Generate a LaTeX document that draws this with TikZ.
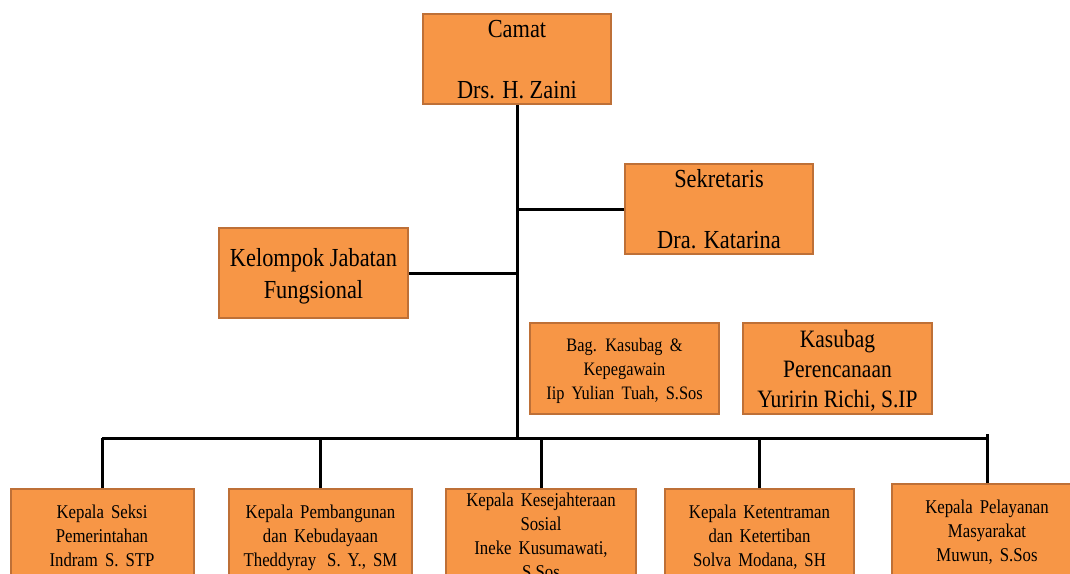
\documentclass[tikz,border=0pt]{standalone}
\usepackage{fontspec}
\setmainfont{Liberation Serif}[FakeStretch=0.86]
\usepackage{xcolor}
\usepackage{tikz}
\usetikzlibrary{positioning}

\definecolor{boxfill}{HTML}{F79646}
\definecolor{boxline}{RGB}{190,112,55}

\begin{document}
\begin{tikzpicture}[x=1pt,y=-1pt,node distance=219pt,
    jabatan/.style={draw=boxline,fill=boxfill,line width=2pt,inner sep=0pt,align=center,
        text depth=0pt,minimum width=188pt,minimum height=90pt},
    seksi/.style={jabatan,minimum height=93pt,
        font={\fontsize{19.5}{24}\selectfont\spaceskip=0.36em\relax}},
    garis/.style={line width=3pt}]
    \useasboundingbox (0,0) rectangle (1070,573);
    \clip (0,0) rectangle (1070,573);

    \node[jabatan,font=\fontsize{26}{30.5}\selectfont] (camat) at (517,59) {Camat\\ \\Drs. H. Zaini};
    \node[jabatan,font=\fontsize{26}{30.5}\selectfont] (sekr) at (719,209) {Sekretaris\\ \\Dra. Katarina};
    \node[jabatan,minimum width=189pt,font=\fontsize{26}{32}\selectfont] (kjf) at (313.5,273) {Kelompok Jabatan\\Fungsional};
    \node[jabatan,minimum width=189pt,minimum height=91pt,
        font={\fontsize{19}{24}\selectfont\spaceskip=0.38em\relax}] (kepeg) at (624.5,368.5)
        {Bag. Kasubag \&\\Kepegawain\\Iip Yulian Tuah, S.Sos};
    \node[jabatan,minimum width=189pt,minimum height=91pt,font=\fontsize{25}{30}\selectfont] (renc) at (837.5,368.5)
        {Kasubag\\Perencanaan\\Yuririn Richi, S.IP};

    \node[seksi,minimum width=183pt] (pem) at (102,535.5) {Kepala Seksi\\Pemerintahan\\Indram S. STP};
    \node[seksi,minimum width=183pt] (bud) [right of=pem, xshift=-0.5pt] {Kepala Pembangunan\\dan Kebudayaan\\Theddyray\hspace{0.2em} S. Y., SM};
    \node[seksi,minimum width=190pt] (kes) [right of=bud, xshift=1.5pt] {Kepala Kesejahteraan\\Sosial\\Ineke Kusumawati,\\S.Sos};
    \node[seksi,minimum width=189pt] (tib) [right of=kes, xshift=-0.5pt] {Kepala Ketentraman\\dan Ketertiban\\Solva Modana, SH};
    \node[seksi,minimum width=190pt] (yan) [right of=tib, xshift=8.5pt, yshift=5pt] {Kepala Pelayanan\\Masyarakat\\Muwun, S.Sos};

    \coordinate (bus) at (517,438);

    \draw[garis] (camat.south) -- (bus);
    \draw[garis] (sekr.west) -- (sekr.west -| camat.south);
    \draw[garis] (kjf.east) -- (kjf.east -| camat.south);
    \draw[garis] (pem |- bus) -- (yan |- bus);
    \foreach \s in {pem,bud,kes,tib}
        \draw[garis] (\s.north) -- (\s |- bus);
    \draw[garis] (yan.north) -- ([yshift=4pt]yan |- bus);
\end{tikzpicture}
\end{document}
